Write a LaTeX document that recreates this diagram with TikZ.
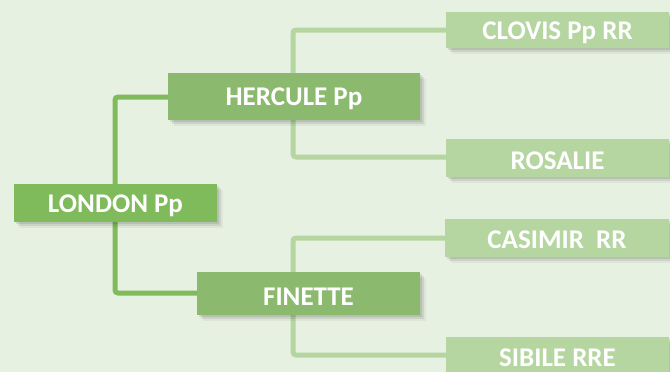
\documentclass[tikz,border=0pt]{standalone}
\usepackage{fontspec}
\setmainfont{Carlito}
\usetikzlibrary{shadows}
\definecolor{bg}{HTML}{E7F1E1}
\definecolor{gA}{HTML}{7FBA5B}
\definecolor{gB}{HTML}{8BBA6F}
\definecolor{gC}{HTML}{B5D6A1}
\tikzset{
  x=1pt,y=-1pt,
  lbl/.style={inner sep=0pt,text=white,font=\bfseries\fontsize{27}{30}\selectfont},
  box/.style={rectangle,inner sep=0pt,
    drop shadow={shadow xshift=2pt,shadow yshift=-2pt,opacity=0.12,fill=black!80},
    drop shadow={shadow xshift=4pt,shadow yshift=-4pt,opacity=0.10,fill=black!80},
    drop shadow={shadow xshift=6pt,shadow yshift=-6pt,opacity=0.06,fill=black!80}},
  rootbox/.style={box,fill=gA},
  midbox/.style={box,fill=gB},
  leafbox/.style={box,fill=gC},
  link/.style={line width=5pt,rounded corners=3pt},
}
\begin{document}
\begin{tikzpicture}
\useasboundingbox (0,0) rectangle (670,372);
\fill[bg] (0,0) rectangle (670,372);
% connectors (drawn first)
\coordinate (lr) at (115,203);
\coordinate (hr) at (293,96);
\coordinate (fr) at (293,293);
\draw[link,gA] (lr) |- (168,97);
\draw[link,gA] (lr) |- (198,293);
\draw[link,gC] (hr) |- (447,30);
\draw[link,gC] (hr) |- (447,157);
\draw[link,gC] (fr) |- (446,238);
\draw[link,gC] (fr) |- (446,355);
% boxes
\node[rootbox,minimum width=203pt,minimum height=38pt] (london) at (115.5,203) {};
\node[midbox,minimum width=252pt,minimum height=47pt] (hercule) at (294,96.5) {};
\node[midbox,minimum width=223pt,minimum height=43pt] (finette) at (308.5,293.5) {};
\node[leafbox,minimum width=223pt,minimum height=36pt] (clovis) at (557.5,30) {};
\node[leafbox,minimum width=223pt,minimum height=38pt] (rosalie) at (557.5,158) {};
\node[leafbox,minimum width=224pt,minimum height=38pt] (casimir) at (557,238) {};
\node[leafbox,minimum width=223pt,minimum height=40pt] (sibile) at (557.5,357) {};
% texts
\node[lbl] (t1) at ([yshift=-2.5pt]london.center) {LONDON Pp};
\node[lbl] (t2) at ([yshift=-2pt]hercule.center) {HERCULE Pp};
\node[lbl] (t3) at ([yshift=-3pt]finette.center) {FINETTE};
\node[lbl] (t4) at ([yshift=-3pt]clovis.center) {CLOVIS Pp RR};
\node[lbl] (t5) at ([yshift=-3pt]rosalie.center) {ROSALIE};
\node[lbl] (t6) at ([yshift=-2pt]casimir.center) {CASIMIR\ \ RR};
\node[lbl] (t7) at ([yshift=-1pt]sibile.center) {SIBILE RRE};
\end{tikzpicture}
\end{document}
